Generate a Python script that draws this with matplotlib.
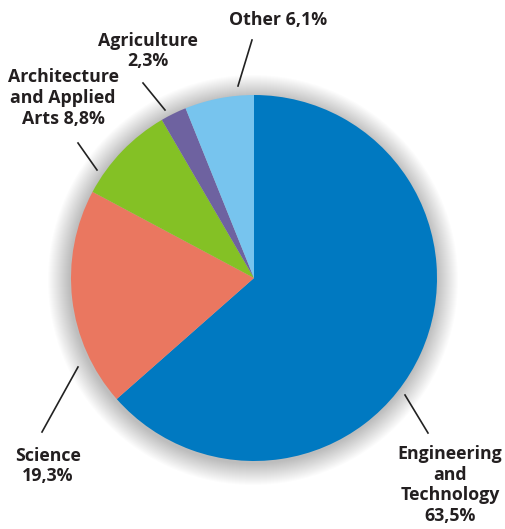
import matplotlib.pyplot as plt
from matplotlib.patches import Circle

labels = ["Engineering\nand\nTechnology\n63,5%", "Science\n19,3%",
          "Architecture\nand Applied\nArts 8,8%", "Agriculture\n2,3%", "Other 6,1%"]
shares = [63.5, 19.3, 8.8, 2.3, 6.1]
colors = ["#0079c1", "#ea7760", "#84c125", "#6e62a0", "#77c4ee"]

H = 529
# label text position and leader line (pixel coords, y from top)
label_pos = [(450, 485), (48, 466), (63, 98), (148, 51), (278, 20)]
leaders = [((405, 395), (428, 433)), ((78, 367), (42, 432)),
           ((97, 170), (78, 143)), ((165, 110), (143, 83)),
           ((238, 86), (252, 40))]

fig = plt.figure(figsize=(5.05, 5.29), dpi=100)
ax = fig.add_axes([0, 0, 1, 1])

cx, cy, r = 254, H - 278, 183

# soft shadow around the pie
for k in range(22, 0, -1):
    ax.add_patch(Circle((cx - 1, cy - 2), r + k, color="black", alpha=0.012, lw=0, zorder=0))

ax.pie(shares, colors=colors, startangle=90, counterclock=False,
       center=(cx, cy), radius=r, frame=True,
       wedgeprops=dict(linewidth=0, zorder=1))
ax.set_xlim(0, 505)
ax.set_ylim(0, H)
ax.axis("off")

for lab, (tx, ty), ((x0, y0), (x1, y1)) in zip(labels, label_pos, leaders):
    ax.plot([x0, x1], [H - y0, H - y1], color="#222222", lw=1.2, zorder=3)
    ax.text(tx, H - ty, lab, ha="center", va="center", fontsize=12.8,
            fontweight="bold", family="Open Sans", color="#231f20",
            linespacing=1.18, zorder=3)

fig.savefig("out.png", dpi=100)
